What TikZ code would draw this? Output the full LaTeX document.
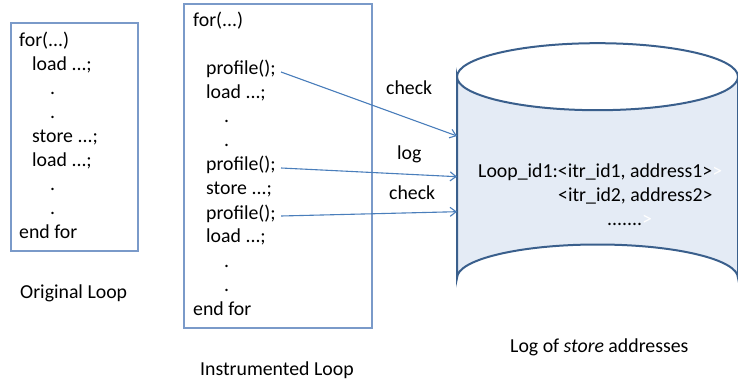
\documentclass[tikz,border=0pt]{standalone}
\usepackage{fontspec}
\setmainfont{Carlito}
\usetikzlibrary{arrows.meta}
\definecolor{boxline}{HTML}{7A9AC9}
\definecolor{arrowline}{HTML}{4A7EBB}
\definecolor{dbline}{HTML}{3A5F8C}
\definecolor{dbfill}{HTML}{E4EBF5}
\begin{document}
\begin{tikzpicture}[x=1pt,y=-1pt,
  txt/.style={anchor=base west, inner sep=0pt, font=\fontsize{19.8}{24}\selectfont},
  codebox/.style={draw=boxline, line width=1.3pt},
  probe/.style={draw=arrowline, line width=1.1pt, -{Straight Barb[length=6pt,width=9pt,line width=1.1pt]}}]
\useasboundingbox (0,0) rectangle (738,379);

% original loop
\draw[codebox] (11,23) rectangle (138,251);
\node[txt] (o1) at (19,46.7) {for(...)};
\node[txt] (o2) at (32,70.7) {load ...;};
\node[txt] (o3) at (50,94.7) {.};
\node[txt] (o4) at (50,118.7) {.};
\node[txt] (o5) at (32,142.7) {store ...;};
\node[txt] (o6) at (32,166.7) {load ...;};
\node[txt] (o7) at (50,190.7) {.};
\node[txt] (o8) at (50,214.7) {.};
\node[txt] (o9) at (19,238.7) {end for};
\node[txt] (olabel) at (20,298.5) {Original Loop};

% instrumented loop
\draw[codebox] (184,4) rectangle (372,328);
\node[txt] (i1) at (193,27) {for(...)};
\node[txt] (p1) at (206,75) {profile();};
\node[txt] (i2) at (206,99) {load ...;};
\node[txt] (i3) at (224,123) {.};
\node[txt] (i4) at (224,147) {.};
\node[txt] (p2) at (206,171) {profile();};
\node[txt] (i5) at (206,195) {store ...;};
\node[txt] (p3) at (206,219) {profile();};
\node[txt] (i6) at (206,243) {load ...;};
\node[txt] (i7) at (224,267) {.};
\node[txt] (i8) at (224,291) {.};
\node[txt] (i9) at (193,315) {end for};
\node[txt] (ilabel) at (200,375) {Instrumented Loop};

% store-address log (cylinder)
\path[fill=dbfill, draw=dbline, line width=2pt]
  (457,76.7) -- (457,278) arc[start angle=180, end angle=360, x radius=140.5, y radius=33.5]
  -- (738,76.7) arc[start angle=0, end angle=180, x radius=140.5, y radius=33.5] -- cycle;
\draw[dbline, line width=2pt] (738,76.7) arc[start angle=0, end angle=-180, x radius=140.5, y radius=33.5];
\coordinate (c1) at (457,136);
\coordinate (c2) at (457,176.7);
\coordinate (c3) at (457,211.7);
\node[txt] (d1) at (478,177.5) {Loop\_id1:<itr\_id1, address1>\textcolor{white}{>}};
\node[txt] (d2) at (558,201.5) {<itr\_id2, address2>};
\node[txt] (d3) at (607,225.5) {.......\textcolor{white}{>}};
\node[txt] (dlabel) at (510,352) {Log of \textit{store} addresses};

% profiling calls into the log
\draw[probe] ([shift={(5,-3)}]p1.base east) -- (c1);
\draw[probe] ([shift={(5,-3)}]p2.base east) -- (c2);
\draw[probe] ([shift={(5,-3)}]p3.base east) -- (c3);
\node[txt] (l1) at (386,95) {check};
\node[txt] (l2) at (397,160) {log};
\node[txt] (l3) at (389,200) {check};
\end{tikzpicture}
\end{document}
